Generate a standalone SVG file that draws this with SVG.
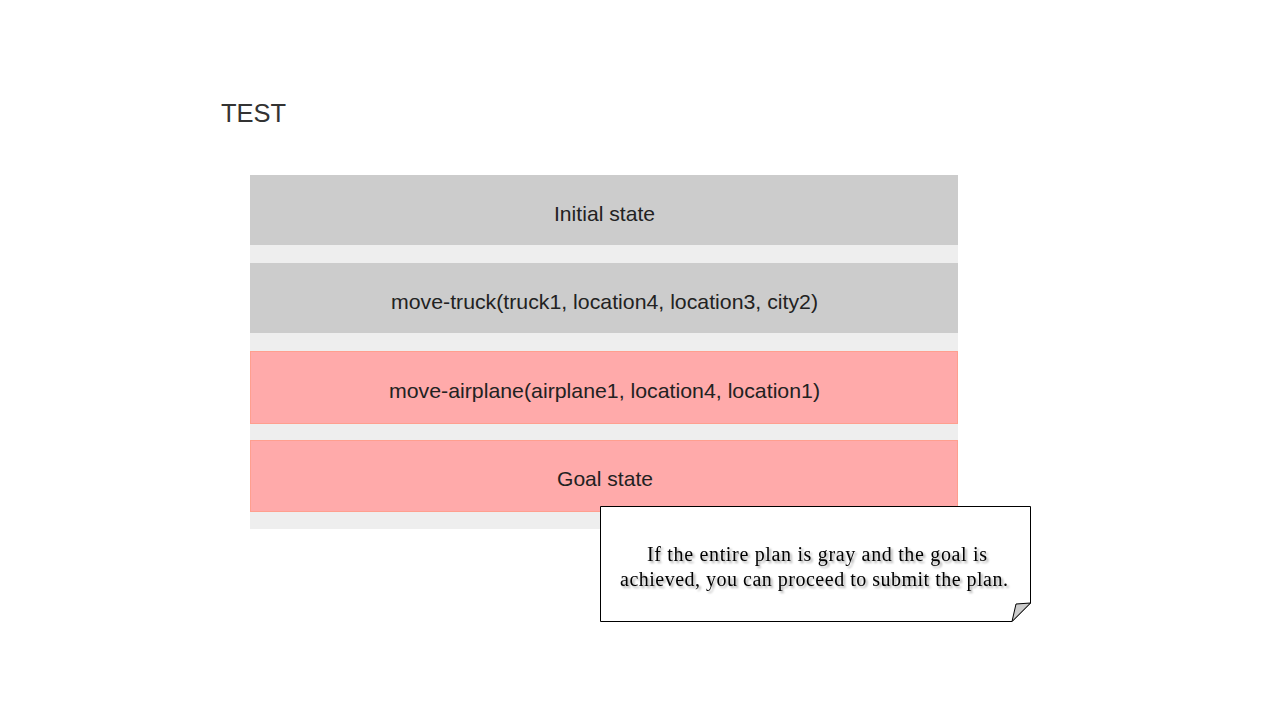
<svg xmlns="http://www.w3.org/2000/svg" width="1280" height="720" viewBox="0 0 1280 720">
<defs>
<style>
.row-gray{fill:#cccccc;}
.row-red{fill:#ffaaaa;stroke:#ff9f8f;stroke-width:1;}
.lbl{font-family:"Liberation Sans",Arial,sans-serif;font-size:21px;fill:#222;text-anchor:middle;}
.note{font-family:"Liberation Serif","Times New Roman",serif;font-size:20px;fill:#000;text-anchor:middle;}
</style>
<filter id="sh" x="-5%" y="-20%" width="110%" height="140%">
<feGaussianBlur in="SourceAlpha" stdDeviation="0.8"/>
<feOffset dx="1.5" dy="1.5" result="o"/>
<feComponentTransfer><feFuncA type="linear" slope="0.35"/></feComponentTransfer>
<feMerge><feMergeNode/><feMergeNode in="SourceGraphic"/></feMerge>
</filter>
</defs>
<rect width="1280" height="720" fill="#ffffff"/>
<text x="221" y="122" font-family="'Liberation Sans',Arial,sans-serif" font-size="25.5" fill="#333">TEST</text>
<rect id="plan-bg" x="250" y="175" width="708" height="354" fill="#eeeeee"/>
<g id="initial">
<rect class="row-gray" x="250" y="175" width="708" height="70"/>
<text class="lbl" x="604.5" y="221" textLength="101" lengthAdjust="spacingAndGlyphs">Initial state</text>
</g>
<g id="move-truck">
<rect class="row-gray" x="250" y="263" width="708" height="70"/>
<text class="lbl" x="604.5" y="309" textLength="427" lengthAdjust="spacingAndGlyphs">move-truck(truck1, location4, location3, city2)</text>
</g>
<g id="move-airplane">
<rect class="row-red" x="250.5" y="351.5" width="707" height="72"/>
<text class="lbl" x="604.5" y="398" textLength="431" lengthAdjust="spacingAndGlyphs">move-airplane(airplane1, location4, location1)</text>
</g>
<g id="goal">
<rect class="row-red" x="250.5" y="440.5" width="707" height="71"/>
<text class="lbl" x="605" y="486" textLength="96" lengthAdjust="spacingAndGlyphs">Goal state</text>
</g>
<g id="callout">
<path d="M600.5 506.5 H1030.5 V603 L1012 621.5 H600.5 Z" fill="#ffffff" stroke="#000" stroke-width="1"/>
<path d="M1012 621.5 L1016 604 L1030.5 603 Z" fill="#cccccc" stroke="#000" stroke-width="1" stroke-linejoin="round"/>
<g filter="url(#sh)">
<text class="note" x="817" y="561" textLength="340" lengthAdjust="spacing">If the entire plan is gray and the goal is</text>
<text class="note" x="814" y="586" textLength="388" lengthAdjust="spacing">achieved,  you can proceed to submit the plan.</text>
</g>
</g>
</svg>
